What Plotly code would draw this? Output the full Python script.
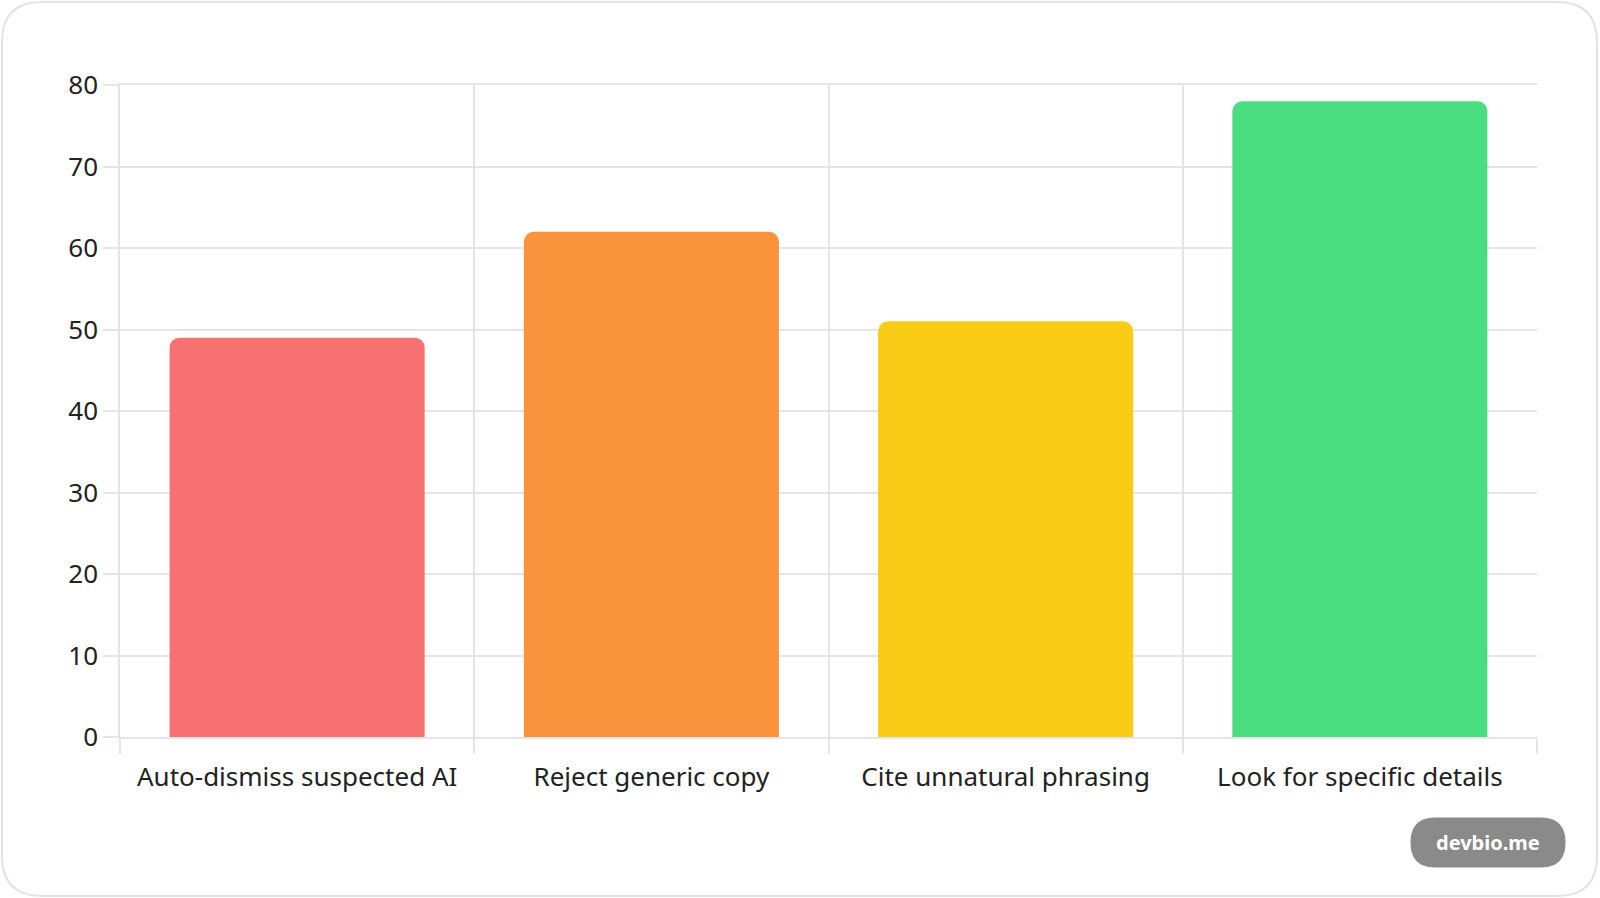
import plotly.graph_objects as go

# values
categories = ["Auto-dismiss suspected AI", "Reject generic copy",
              "Cite unnatural phrasing", "Look for specific details"]
values = [49, 62, 51, 78]
bar_colors = ["#f87171", "#fb923c", "#facc15", "#4ade80"]
y_ticks = [0, 10, 20, 30, 40, 50, 60, 70, 80]

W, H = 1600, 898
L, R, T, B = 120, 63, 85, 161
pw, ph = W - L - R, H - T - B

def px2paper(x, y):
	return (x - L) / pw, (H - B - y) / ph

def rounded_path(x0, y0, x1, y1, r):
	# rounded rectangle in paper coords, built from pixel corners
	rx, ry = r / pw, r / ph
	a0, b1 = px2paper(x0, y0)
	a1, b0 = px2paper(x1, y1)
	return (f"M {a0+rx},{b1} L {a1-rx},{b1} Q {a1},{b1} {a1},{b1-ry} "
		f"L {a1},{b0+ry} Q {a1},{b0} {a1-rx},{b0} L {a0+rx},{b0} "
		f"Q {a0},{b0} {a0},{b0+ry} L {a0},{b1-ry} Q {a0},{b1} {a0+rx},{b1} Z")

fig = go.Figure()
fig.add_trace(go.Bar(
	x=categories,
	y=values,
	marker=dict(color=bar_colors, cornerradius=10, line_width=0),
	hoverinfo="x+y",
))

grid = "#e5e5e5"
wx, wy = px2paper(1488, 842)
fig.update_layout(
	width=W, height=H,
	margin=dict(l=L, r=R, t=T, b=B),
	paper_bgcolor="white",
	plot_bgcolor="white",
	bargap=0.28,
	showlegend=False,
	font=dict(family="Noto Sans, Open Sans, sans-serif", size=26, color="#222222"),
	shapes=[
		dict(type="path", xref="paper", yref="paper", layer="below",
			path=rounded_path(2, 2, 1597, 896, 40),
			line=dict(color="#e2e2e2", width=2), fillcolor="white"),
		dict(type="path", xref="paper", yref="paper", layer="below",
			path=rounded_path(1411, 818, 1565, 867, 24),
			line=dict(color="#8a8a8a", width=1), fillcolor="#8a8a8a"),
	],
	annotations=[
		dict(text="<b>devbio.me</b>", xref="paper", yref="paper",
			x=wx, y=wy, xanchor="center", yanchor="middle",
			showarrow=False, font=dict(size=20, color="white")),
	],
)
fig.update_xaxes(
	type="category",
	tickson="boundaries",
	showgrid=True, gridcolor=grid, gridwidth=1.5,
	ticks="outside", ticklen=15, tickcolor=grid, tickwidth=1.5,
	showline=True, linecolor=grid, linewidth=1.5, mirror=True,
	ticklabelstandoff=16,
	fixedrange=True,
)
fig.update_yaxes(
	range=[0, 80],
	tickvals=y_ticks,
	showgrid=True, gridcolor=grid, gridwidth=1.5,
	ticks="outside", ticklen=15, tickcolor=grid, tickwidth=1.5,
	showline=True, linecolor=grid, linewidth=1.5,
	zeroline=False,
	ticklabelstandoff=0,
	fixedrange=True,
)

# drop the default page margin so the figure fills the window
fig.write_html("out.html", config={"displayModeBar": False},
	post_script="document.body.style.margin='0';")
